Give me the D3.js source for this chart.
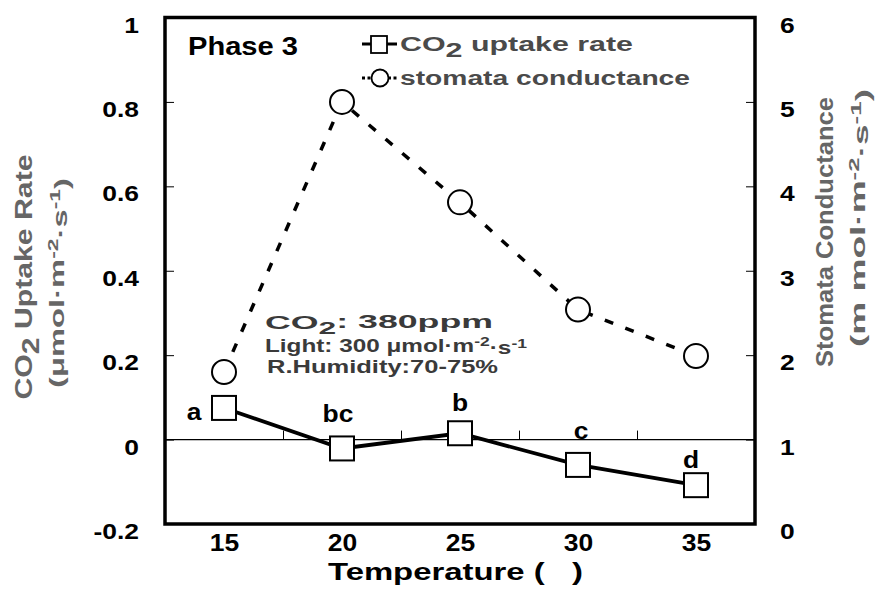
<!DOCTYPE html>
<html>
<head>
<meta charset="utf-8">
<script src="https://cdn.jsdelivr.net/npm/d3@7"></script>
<style>
    body { margin: 0; background: #fff; }
    svg { display: block; font-family: "Liberation Sans", Arial, sans-serif; }
    text { white-space: pre; }
</style>
</head>
<body>
<svg width="877" height="595"></svg>
<script>
const temps = [15, 20, 25, 30, 35]
const co2Uptake = [0.075, -0.021, 0.015, -0.060, -0.108]
const conductance = [1.80, 5.00, 3.81, 2.54, 1.99]
const sigLetters = ["a", "bc", "b", "c", "d"]
const leftTicks = [-0.2, 0, 0.2, 0.4, 0.6, 0.8, 1]
const rightTicks = [0, 1, 2, 3, 4, 5, 6]
const midTicks = [17.5, 22.5, 27.5, 32.5]

// label offsets from each square (layout only)
const letterOffset = [[-30, 12], [-4, -26], [0, -22], [3, -26], [-5, -17]]

const
    margin = { top: 17.5, right: 122, bottom: 71, left: 165 },
    width = 877,
    height = 595

const x = d3.scaleLinear()
    .domain([12.5, 37.5])
    .range([margin.left, width - margin.right])

const yL = d3.scaleLinear()
    .domain([-0.2, 1])
    .range([height - margin.bottom, margin.top])

const yR = d3.scaleLinear()
    .domain([0, 6])
    .range([height - margin.bottom, margin.top])

const svg = d3.select("svg")

// widen text horizontally around its anchor x
function widen(sel, k) {
    sel.each(function() {
        const t = d3.select(this)
        const x0 = +t.attr("x") || 0
        t.attr("transform", `translate(${x0},0) scale(${k},1) translate(${-x0},0)`)
    })
}

const fmt = d => String(+d.toFixed(1))

// left axis
svg.append("g")
    .attr("transform", `translate(${margin.left},0)`)
    .call(d3.axisLeft(yL).tickValues(leftTicks).tickFormat(fmt)
        .tickSizeInner(-9).tickSizeOuter(0).tickPadding(26))
    .call(g => g.select(".domain").remove())
    .call(g => g.selectAll("line").attr("stroke", "#000"))
    .call(g => g.selectAll("text").attr("font-size", 22).attr("font-weight", "bold").attr("fill", "#000")
        .attr("dy", "0.66em").call(widen, 1.2))

// right axis
svg.append("g")
    .attr("transform", `translate(${width - margin.right},0)`)
    .call(d3.axisRight(yR).tickValues(rightTicks).tickFormat(fmt)
        .tickSizeInner(-9).tickSizeOuter(0).tickPadding(25))
    .call(g => g.select(".domain").remove())
    .call(g => g.selectAll("line").attr("stroke", "#000"))
    .call(g => g.selectAll("text").attr("font-size", 22).attr("font-weight", "bold").attr("fill", "#000")
        .attr("dy", "0.66em").call(widen, 1.2))

// bottom labels
svg.append("g")
    .attr("transform", `translate(0,${height - margin.bottom})`)
    .call(d3.axisBottom(x).tickValues(temps).tickSize(0).tickPadding(11))
    .call(g => g.select(".domain").remove())
    .call(g => g.selectAll("text").attr("font-size", 23).attr("font-weight", "bold").attr("fill", "#000")
        .call(widen, 1.15))

// zero line with ticks
svg.append("line")
    .attr("x1", x(12.5)).attr("x2", x(37.5))
    .attr("y1", yL(0)).attr("y2", yL(0))
    .attr("stroke", "#000").attr("stroke-width", 1.3)

svg.append("g")
    .attr("transform", `translate(0,${yL(0)})`)
    .call(d3.axisTop(x).tickValues(midTicks).tickFormat("").tickSize(9).tickSizeOuter(0))
    .call(g => g.select(".domain").remove())
    .call(g => g.selectAll("line").attr("stroke", "#000"))

// frame
svg.append("rect")
    .attr("x", x(12.5)).attr("y", yL(1))
    .attr("width", x(37.5) - x(12.5))
    .attr("height", yL(-0.2) - yL(1))
    .attr("fill", "none").attr("stroke", "#000").attr("stroke-width", 3.5)

// annotation
const note = svg.append("g")
    .attr("font-size", 18).attr("font-weight", "bold").attr("fill", "#3a3a3a")
const n1 = note.append("text").attr("x", 265).attr("y", 329).attr("textLength", 228).attr("lengthAdjust", "spacingAndGlyphs")
n1.append("tspan").text("CO")
n1.append("tspan").attr("dy", "0.3em").attr("font-size", 16).text("2")
n1.append("tspan").attr("dy", "-0.3em").text(": 380ppm")
const n2 = note.append("text").attr("x", 265).attr("y", 352).attr("textLength", 262).attr("lengthAdjust", "spacingAndGlyphs")
n2.append("tspan").text("Light: 300 μmol·m")
n2.append("tspan").attr("dy", "-0.45em").attr("font-size", 13).text("-2")
n2.append("tspan").attr("dy", "0.45em").text("·s")
n2.append("tspan").attr("dy", "-0.45em").attr("font-size", 13).text("-1")
note.append("text").attr("x", 267).attr("y", 373).attr("textLength", 231).attr("lengthAdjust", "spacingAndGlyphs")
    .text("R.Humidity:70-75%")

// conductance line
const condLine = d3.line().x((d, i) => x(temps[i])).y(d => yR(d))
svg.append("path")
    .datum(conductance)
    .attr("d", condLine)
    .attr("fill", "none").attr("stroke", "#000")
    .attr("stroke-width", 3.5).attr("stroke-dasharray", "9,13")

svg.append("g")
    .selectAll("circle")
    .data(conductance)
    .join("circle")
    .attr("cx", (d, i) => x(temps[i]))
    .attr("cy", d => yR(d))
    .attr("r", 12)
    .attr("fill", "#fff").attr("stroke", "#000").attr("stroke-width", 2)

// CO2 line
const co2Line = d3.line().x((d, i) => x(temps[i])).y(d => yL(d))
svg.append("path")
    .datum(co2Uptake)
    .attr("d", co2Line)
    .attr("fill", "none").attr("stroke", "#000").attr("stroke-width", 3.8)

svg.append("g")
    .selectAll("rect")
    .data(co2Uptake)
    .join("rect")
    .attr("x", (d, i) => x(temps[i]) - 12)
    .attr("y", d => yL(d) - 12)
    .attr("width", 24).attr("height", 24)
    .attr("fill", "#fff").attr("stroke", "#000").attr("stroke-width", 2)

// significance letters
svg.append("g")
    .selectAll("text")
    .data(sigLetters)
    .join("text")
    .attr("x", (d, i) => x(temps[i]) + letterOffset[i][0])
    .attr("y", (d, i) => yL(co2Uptake[i]) + letterOffset[i][1])
    .attr("text-anchor", "middle")
    .attr("font-size", 24).attr("font-weight", "bold")
    .text(d => d)
    .call(widen, 1.1)

// Phase label
svg.append("text")
    .attr("x", 188).attr("y", 55)
    .attr("font-size", 25).attr("font-weight", "bold")
    .attr("textLength", 110).attr("lengthAdjust", "spacingAndGlyphs")
    .text("Phase 3")

// legend
const legend = svg.append("g")
legend.append("line").attr("x1", 362).attr("x2", 397).attr("y1", 44).attr("y2", 44)
    .attr("stroke", "#000").attr("stroke-width", 3)
legend.append("rect").attr("x", 371).attr("y", 36).attr("width", 16).attr("height", 17)
    .attr("fill", "#fff").attr("stroke", "#000").attr("stroke-width", 1.8)
legend.append("line").attr("x1", 362).attr("x2", 372).attr("y1", 78).attr("y2", 78)
    .attr("stroke", "#000").attr("stroke-width", 3).attr("stroke-dasharray", "3,2.5")
legend.append("line").attr("x1", 388).attr("x2", 398).attr("y1", 78).attr("y2", 78)
    .attr("stroke", "#000").attr("stroke-width", 3).attr("stroke-dasharray", "3,2.5")
legend.append("circle").attr("cx", 380).attr("cy", 78).attr("r", 8.5)
    .attr("fill", "#fff").attr("stroke", "#000").attr("stroke-width", 1.8)

const lt1 = legend.append("text").attr("x", 400).attr("y", 51)
    .attr("font-size", 20).attr("font-weight", "bold").attr("fill", "#4a4a4a")
    .attr("textLength", 233).attr("lengthAdjust", "spacingAndGlyphs")
lt1.append("tspan").text("CO")
lt1.append("tspan").attr("dy", "0.3em").text("2")
lt1.append("tspan").attr("dy", "-0.3em").text(" uptake rate")
legend.append("text").attr("x", 400).attr("y", 85)
    .attr("font-size", 20).attr("font-weight", "bold").attr("fill", "#4a4a4a")
    .attr("textLength", 290).attr("lengthAdjust", "spacingAndGlyphs")
    .text("stomata conductance")

// x title
svg.append("text")
    .attr("x", 328).attr("y", 580)
    .attr("font-size", 24).attr("font-weight", "bold")
    .attr("textLength", 255).attr("lengthAdjust", "spacingAndGlyphs")
    .text("Temperature (   )")

// left title
const lTitle = svg.append("g").attr("fill", "#666").attr("font-weight", "bold")
const lt = lTitle.append("text")
    .attr("transform", "translate(32,277) rotate(-90)")
    .attr("text-anchor", "middle").attr("font-size", 23)
    .attr("textLength", 245).attr("lengthAdjust", "spacingAndGlyphs")
lt.append("tspan").text("CO")
lt.append("tspan").attr("dy", "0.3em").text("2")
lt.append("tspan").attr("dy", "-0.3em").text(" Uptake Rate")
const lu = lTitle.append("text")
    .attr("transform", "translate(64,283) rotate(-90)")
    .attr("text-anchor", "middle").attr("font-size", 20)
    .attr("textLength", 210).attr("lengthAdjust", "spacingAndGlyphs")
lu.append("tspan").text("(μmol·m")
lu.append("tspan").attr("dy", "-0.45em").attr("font-size", 14).text("-2")
lu.append("tspan").attr("dy", "0.45em").text("·s")
lu.append("tspan").attr("dy", "-0.45em").attr("font-size", 14).text("-1")
lu.append("tspan").attr("dy", "0.45em").text(")")

// right title
const rTitle = svg.append("g").attr("fill", "#666").attr("font-weight", "bold")
rTitle.append("text")
    .attr("transform", "translate(833,232) rotate(-90)")
    .attr("text-anchor", "middle").attr("font-size", 23)
    .attr("textLength", 270).attr("lengthAdjust", "spacingAndGlyphs")
    .text("Stomata Conductance")
const ru = rTitle.append("text")
    .attr("transform", "translate(865,218) rotate(-90)")
    .attr("text-anchor", "middle").attr("font-size", 20)
    .attr("textLength", 258).attr("lengthAdjust", "spacingAndGlyphs")
ru.append("tspan").text("(m mol·m")
ru.append("tspan").attr("dy", "-0.45em").attr("font-size", 14).text("-2")
ru.append("tspan").attr("dy", "0.45em").text("·s")
ru.append("tspan").attr("dy", "-0.45em").attr("font-size", 14).text("-1")
ru.append("tspan").attr("dy", "0.45em").text(")")
</script>
</body>
</html>
